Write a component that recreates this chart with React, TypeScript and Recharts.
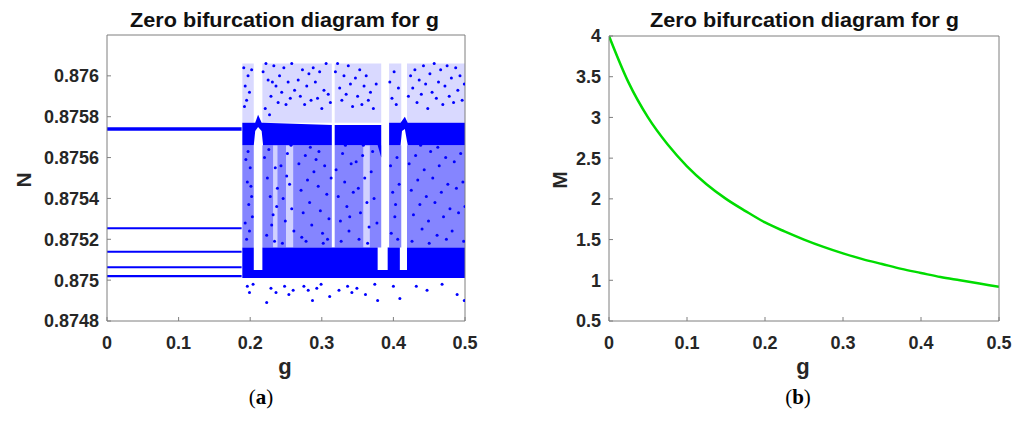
import React from "react";
import {
  ComposedChart,
  LineChart,
  Line,
  Area,
  Scatter,
  XAxis,
  YAxis,
} from "recharts";

// ---- panel (a): bifurcation of N over g ----
const gTicks = [0, 0.1, 0.2, 0.3, 0.4, 0.5];
const nTicks = [0.8748, 0.875, 0.8752, 0.8754, 0.8756, 0.8758, 0.876];

// fixed points before the chaotic onset
const flatG = [0, 0.188];
const flatLevels = [0.87574, 0.875254, 0.875139, 0.875063, 0.87502];

// upper attractor band (null = periodic window)
const upperG = [0.189, 0.205, 0.207, 0.211, 0.216, 0.218, 0.314, 0.316, 0.318, 0.378, 0.383, 0.387, 0.394, 0.41, 0.412, 0.416, 0.42, 0.5];
const upperLo = [0.87566, 0.87566, 0.87573, 0.87575, 0.87573, 0.87566, 0.87566, null, 0.87566, 0.87566, 0.8756, null, 0.87566, 0.87566, 0.87573, 0.87574, 0.87566, 0.87566];
const upperHi = [0.87577, 0.87577, 0.87577, 0.87581, 0.87577, 0.87577, 0.87576, null, 0.87576, 0.87576, 0.87576, null, 0.87577, 0.87577, 0.87578, 0.8758, 0.87577, 0.87577];

// g-ranges of the chaotic cloud
const midDense = [[0.189, 0.205], [0.217, 0.232], [0.238, 0.25], [0.26, 0.314], [0.318, 0.358], [0.367, 0.383], [0.394, 0.411], [0.419, 0.5]];
const midSparse = [[0.232, 0.238], [0.25, 0.26], [0.358, 0.367]];
const topCloud = [[0.189, 0.205], [0.217, 0.314], [0.318, 0.383], [0.394, 0.411], [0.419, 0.5]];
const lowerBand = [[0.189, 0.205], [0.217, 0.378], [0.392, 0.409], [0.419, 0.5]];
const baseBand = [[0.189, 0.5]];

// N-levels of the cloud layers
const cloudTop = 0.87606;
const bandTop = 0.87577;
const midTop = 0.87566;
const midFloor = 0.87516;
const lowerSplit = 0.87505;
const lowerFloor = 0.87501;

// scattered iterates (g, N)
const dotsEarly: [number, number][] = [
  [0.191, 0.87604], [0.193, 0.87595], [0.195, 0.87588], [0.192, 0.87585], [0.197, 0.876], [0.199, 0.87592], [0.202, 0.87603],
  [0.194, 0.87559], [0.196, 0.87548], [0.198, 0.87537], [0.193, 0.87528], [0.2, 0.87555], [0.202, 0.87541], [0.195, 0.8752],
  [0.199, 0.87524], [0.203, 0.87531], [0.197, 0.87563], [0.201, 0.87546], [0.196, 0.87497], [0.199, 0.87494], [0.204, 0.87498],
  [0.218, 0.87602], [0.222, 0.87606], [0.225, 0.87598], [0.229, 0.8759], [0.233, 0.87605], [0.236, 0.87595], [0.239, 0.87587],
  [0.221, 0.87584], [0.227, 0.87581], [0.231, 0.87597], [0.22, 0.8756], [0.224, 0.8755], [0.228, 0.87541], [0.232, 0.87532],
  [0.235, 0.87555], [0.238, 0.87545], [0.223, 0.87522], [0.23, 0.87527], [0.226, 0.87564], [0.234, 0.87519], [0.237, 0.87536],
  [0.223, 0.87489], [0.229, 0.87496], [0.236, 0.87494],
  [0.241, 0.876], [0.244, 0.87592], [0.247, 0.87604], [0.25, 0.87586], [0.253, 0.87597], [0.256, 0.87589], [0.258, 0.87606],
  [0.262, 0.87593], [0.243, 0.87556], [0.246, 0.8754], [0.249, 0.87529], [0.252, 0.87562], [0.255, 0.87547], [0.258, 0.87535],
  [0.261, 0.87524], [0.245, 0.87518], [0.251, 0.87551], [0.257, 0.87566], [0.248, 0.87497], [0.254, 0.87493], [0.26, 0.87495],
];

const dotsMiddle: [number, number][] = [
  [0.267, 0.87598], [0.27, 0.8759], [0.273, 0.87603], [0.276, 0.87586], [0.279, 0.87595], [0.282, 0.87601], [0.285, 0.87588],
  [0.288, 0.87604], [0.268, 0.87557], [0.271, 0.87544], [0.274, 0.87533], [0.277, 0.87561], [0.28, 0.87549], [0.283, 0.87538],
  [0.286, 0.87527], [0.289, 0.87553], [0.272, 0.87521], [0.278, 0.87519], [0.284, 0.87565], [0.287, 0.8749], [0.275, 0.87497],
  [0.281, 0.87495],
  [0.291, 0.87597], [0.294, 0.87589], [0.297, 0.87602], [0.3, 0.87584], [0.303, 0.87593], [0.306, 0.87606], [0.309, 0.87591],
  [0.312, 0.87587], [0.292, 0.87559], [0.295, 0.87546], [0.298, 0.87534], [0.301, 0.87523], [0.304, 0.87556], [0.307, 0.87542],
  [0.31, 0.8753], [0.313, 0.8755], [0.296, 0.87563], [0.302, 0.87518], [0.308, 0.8752], [0.293, 0.87496], [0.299, 0.87498],
  [0.311, 0.87492],
  [0.319, 0.87602], [0.322, 0.87606], [0.325, 0.87594], [0.328, 0.87588], [0.331, 0.876], [0.334, 0.87591], [0.337, 0.87605],
  [0.34, 0.87596], [0.343, 0.87585], [0.32, 0.87554], [0.323, 0.87541], [0.326, 0.87529], [0.329, 0.87562], [0.332, 0.87548],
  [0.335, 0.87536], [0.338, 0.87524], [0.341, 0.87557], [0.344, 0.87543], [0.327, 0.87519], [0.333, 0.87566], [0.339, 0.87531],
  [0.324, 0.87495], [0.336, 0.87497], [0.342, 0.87494],
  [0.347, 0.87599], [0.35, 0.8759], [0.353, 0.87603], [0.356, 0.87586], [0.359, 0.87595], [0.362, 0.876], [0.365, 0.87588],
  [0.368, 0.87592], [0.372, 0.87584], [0.376, 0.87596], [0.348, 0.87558], [0.351, 0.87545], [0.354, 0.87533], [0.357, 0.87561],
  [0.36, 0.8755], [0.363, 0.87538], [0.366, 0.87526], [0.369, 0.87553], [0.373, 0.8754], [0.377, 0.87528], [0.352, 0.8752],
  [0.358, 0.87566], [0.364, 0.87518], [0.371, 0.87563], [0.349, 0.87496], [0.361, 0.87493], [0.374, 0.87498], [0.378, 0.8749],
];

const dotsLate: [number, number][] = [
  [0.395, 0.87597], [0.398, 0.87589], [0.401, 0.87602], [0.404, 0.87586], [0.407, 0.87594], [0.396, 0.87556], [0.399, 0.87543],
  [0.402, 0.87531], [0.405, 0.8756], [0.408, 0.87547], [0.397, 0.87523], [0.403, 0.87537], [0.406, 0.8752], [0.409, 0.87491],
  [0.4, 0.87497],
  [0.421, 0.8759], [0.424, 0.876], [0.427, 0.87594], [0.43, 0.87603], [0.433, 0.87587], [0.436, 0.87598], [0.439, 0.87591],
  [0.442, 0.87605], [0.445, 0.87596], [0.448, 0.87584], [0.451, 0.87601], [0.454, 0.87592], [0.457, 0.87606], [0.46, 0.87589],
  [0.463, 0.87597], [0.466, 0.87603], [0.469, 0.87586], [0.472, 0.87595], [0.475, 0.87605], [0.478, 0.8759], [0.481, 0.87599],
  [0.484, 0.87587], [0.487, 0.87604], [0.49, 0.87593], [0.493, 0.876], [0.496, 0.87588], [0.499, 0.87596],
  [0.422, 0.87557], [0.425, 0.87544], [0.428, 0.87532], [0.431, 0.87561], [0.434, 0.87549], [0.437, 0.87537], [0.44, 0.87525],
  [0.443, 0.87554], [0.446, 0.87541], [0.449, 0.87529], [0.452, 0.87563], [0.455, 0.8755], [0.458, 0.87538], [0.461, 0.87522],
  [0.464, 0.87556], [0.467, 0.87543], [0.47, 0.87531], [0.473, 0.8756], [0.476, 0.87547], [0.479, 0.87535], [0.482, 0.87524],
  [0.485, 0.87558], [0.488, 0.87545], [0.491, 0.87533], [0.494, 0.87562], [0.497, 0.87548], [0.5, 0.87536],
  [0.426, 0.87519], [0.438, 0.87566], [0.45, 0.87518], [0.462, 0.87565], [0.474, 0.8752], [0.486, 0.87567], [0.498, 0.87519],
  [0.432, 0.87497], [0.447, 0.87495], [0.468, 0.87498], [0.489, 0.87493], [0.499, 0.8749],
];

// ---- panel (b): M over g ----
const mG = [0, 0.025, 0.05, 0.075, 0.1, 0.125, 0.15, 0.175, 0.2, 0.225, 0.25, 0.275, 0.3, 0.325, 0.35, 0.375, 0.4, 0.425, 0.45, 0.475, 0.5];
const mValues = [4.0, 3.43, 3.0, 2.67, 2.4, 2.18, 2.0, 1.85, 1.71, 1.6, 1.5, 1.41, 1.33, 1.26, 1.2, 1.14, 1.09, 1.04, 1.0, 0.96, 0.92];
const mTicks = [0.5, 1, 1.5, 2, 2.5, 3, 3.5, 4];

const BLUE = "#0000ff";
const GREEN = "#00dc00";
const AXIS = "#7f7f7f";
const FONT = '"Liberation Sans", Arial, sans-serif';
const tickStyle = { fill: "#262626", fontSize: 18, fontWeight: 700, fontFamily: FONT };

const flatData = flatG.map((g) => {
  const row: Record<string, number> = { g };
  flatLevels.forEach((v, i) => (row[`l${i}`] = v));
  return row;
});

const upperData = upperG.map((g, i) => ({
  g,
  v: upperLo[i] != null ? [upperLo[i], upperHi[i]] : null,
}));

// range rows for each g-segment, with a null row between segments so the area breaks
function segmentRows(segs: number[][], lo: number, hi: number) {
  const rows: { g: number; v: number[] | null }[] = [];
  segs.forEach(([a, b], i) => {
    if (i > 0) rows.push({ g: (segs[i - 1][1] + a) / 2, v: null });
    rows.push({ g: a, v: [lo, hi] }, { g: b, v: [lo, hi] });
  });
  return rows;
}

const dotData = [...dotsEarly, ...dotsMiddle, ...dotsLate].map(([g, N]) => ({ g, N }));

const mData = mG.map((g, i) => ({ g, M: mValues[i] }));

const fmt = (v: number) => String(+v.toFixed(4));

const Dot = (p: any) => <circle cx={p.cx} cy={p.cy} r={1.5} fill={BLUE} />;

const areaProps = { type: "linear" as const, stroke: "none", fill: BLUE, isAnimationActive: false, activeDot: false, dot: false };

function BifurcationPanel() {
  return (
    <ComposedChart width={520} height={421} margin={{ top: 34, right: 54, bottom: 70, left: 37 }}>
      <XAxis dataKey="g" type="number" domain={[0, 0.5]} ticks={gTicks} allowDataOverflow
        stroke={AXIS} tickSize={-4} tickMargin={19} tick={tickStyle} tickFormatter={fmt} height={30} />
      <YAxis type="number" domain={[0.8748, 0.8762]} ticks={nTicks} allowDataOverflow
        stroke={AXIS} tickSize={-4} tickMargin={12} tick={tickStyle} tickFormatter={fmt} width={70} />
      <XAxis xAxisId="top" orientation="top" type="number" domain={[0, 0.5]} ticks={gTicks}
        stroke={AXIS} tickSize={-4} tick={false} height={1} />
      <YAxis yAxisId="right" orientation="right" type="number" domain={[0.8748, 0.8762]} ticks={nTicks}
        stroke={AXIS} tickSize={-4} tick={false} width={1} />

      <Area {...areaProps} data={segmentRows(topCloud, bandTop, cloudTop)} dataKey="v" fillOpacity={0.15} />
      <Area {...areaProps} data={segmentRows(midSparse, midFloor, midTop)} dataKey="v" fillOpacity={0.18} />
      <Area {...areaProps} data={segmentRows(midDense, midFloor, midTop)} dataKey="v" fillOpacity={0.48} />
      <Area {...areaProps} data={upperData} dataKey="v" fillOpacity={1} />
      <Area {...areaProps} data={segmentRows(lowerBand, lowerSplit, midFloor)} dataKey="v" fillOpacity={1} />
      <Area {...areaProps} data={segmentRows(baseBand, lowerFloor, lowerSplit)} dataKey="v" fillOpacity={1} />

      {flatLevels.map((_, i) => (
        <Line key={i} data={flatData} dataKey={`l${i}`} type="linear" stroke={BLUE}
          strokeWidth={i === 0 ? 3.5 : 2.2} dot={false} activeDot={false} isAnimationActive={false} />
      ))}

      <Scatter data={dotData} dataKey="N" shape={Dot} isAnimationActive={false} />
    </ComposedChart>
  );
}

function MPanel() {
  return (
    <LineChart width={506} height={421} data={mData} margin={{ top: 35, right: 26, bottom: 70, left: 29 }}>
      <XAxis dataKey="g" type="number" domain={[0, 0.5]} ticks={gTicks} allowDataOverflow
        stroke={AXIS} tickSize={-4} tickMargin={19} tick={tickStyle} tickFormatter={fmt} height={30} />
      <YAxis type="number" domain={[0.5, 4]} ticks={mTicks} allowDataOverflow
        stroke={AXIS} tickSize={-4} tickMargin={12} tick={tickStyle} width={60} />
      <XAxis xAxisId="top" orientation="top" type="number" domain={[0, 0.5]} ticks={gTicks}
        stroke={AXIS} tickSize={-4} tick={false} height={1} />
      <YAxis yAxisId="right" orientation="right" type="number" domain={[0.5, 4]} ticks={mTicks}
        stroke={AXIS} tickSize={-4} tick={false} width={1} />
      <Line dataKey="M" type="monotone" stroke={GREEN} strokeWidth={2.5} dot={false} activeDot={false} isAnimationActive={false} />
    </LineChart>
  );
}

export default function App() {
  const title = "Zero bifurcation diagram for g";
  const labelStyle = { fontFamily: FONT, fontWeight: 700, fill: "#262626" } as const;
  return (
    <div style={{ position: "absolute", left: 0, top: 0, width: 1026, height: 421, background: "#fff", overflow: "hidden" }}>
      <div style={{ position: "absolute", left: 0, top: 0 }}>
        <BifurcationPanel />
      </div>
      <div style={{ position: "absolute", left: 520, top: 0 }}>
        <MPanel />
      </div>
      <svg width={1026} height={421} style={{ position: "absolute", left: 0, top: 0, pointerEvents: "none" }}>
        <text x={130} y={27} fontSize={20} textLength={309} lengthAdjust="spacingAndGlyphs" {...labelStyle} fill="#111">{title}</text>
        <text x={650} y={27} fontSize={20} textLength={309} lengthAdjust="spacingAndGlyphs" {...labelStyle} fill="#111">{title}</text>
        <text x={0} y={0} fontSize={21} textAnchor="middle" dominantBaseline="central" transform="translate(23.5,180) rotate(-90)" {...labelStyle}>N</text>
        <text x={0} y={0} fontSize={21} textAnchor="middle" dominantBaseline="central" transform="translate(559.5,180) rotate(-90)" {...labelStyle}>M</text>
        <text x={285} y={374} fontSize={22} textAnchor="middle" {...labelStyle}>g</text>
        <text x={803} y={374} fontSize={22} textAnchor="middle" {...labelStyle}>g</text>
        <text x={261} y={404} fontSize={21} textAnchor="middle" fontFamily='"Liberation Serif", serif' fill="#000">
          (<tspan fontWeight={700}>a</tspan>)
        </text>
        <text x={798} y={404} fontSize={21} textAnchor="middle" fontFamily='"Liberation Serif", serif' fill="#000">
          (<tspan fontWeight={700}>b</tspan>)
        </text>
      </svg>
    </div>
  );
}
